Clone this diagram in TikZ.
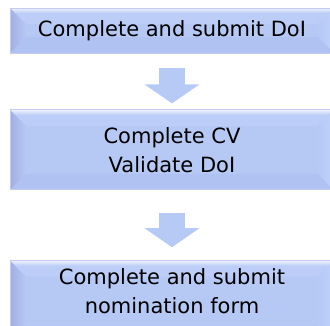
\documentclass[tikz,border=0pt]{standalone}
\usepackage{fontspec}
\newfontfamily\stagefont{DejaVu Sans}
\usetikzlibrary{positioning,arrows.meta}

\definecolor{stageface}{RGB}{182,201,245}
\definecolor{stagetopface}{RGB}{188,206,247}
\definecolor{stagetop}{RGB}{236,241,253}
\definecolor{stageleft}{RGB}{162,174,226}
\definecolor{stageedge}{RGB}{140,150,198}
\definecolor{stageright}{RGB}{192,210,251}
\definecolor{stagebottom}{RGB}{176,194,241}
\definecolor{stageline}{RGB}{198,202,240}
\definecolor{flowarrow}{RGB}{183,202,246}

\begin{document}
\begin{tikzpicture}[
    x=1pt, y=1pt,
    stage/.style={draw=stageline, line width=0.8pt, fill=stageface,
        minimum width=324pt, inner sep=2pt, align=center,
        font=\stagefont\fontsize{21}{29}\selectfont,
        path picture={
            \coordinate (pnw) at (path picture bounding box.north west);
            \coordinate (pne) at (path picture bounding box.north east);
            \coordinate (psw) at (path picture bounding box.south west);
            \coordinate (pse) at (path picture bounding box.south east);
            \fill[stagetopface] (pnw) -- (pne) -- ([shift={(-16,-16)}]pne) -- ([shift={(16,-16)}]pnw) -- cycle;
            \shade[top color=stagetop, bottom color=stagetopface] (pnw) rectangle ([yshift=-5]pne);
            \fill[stagebottom] (psw) -- (pse) -- ([shift={(-16,16)}]pse) -- ([shift={(16,16)}]psw) -- cycle;
            \shade[left color=stageleft, right color=stageface] (pnw) -- ([shift={(16,-16)}]pnw) -- ([shift={(16,16)}]psw) -- (psw) -- cycle;
            \shade[left color=stageface, right color=stageright] (pne) -- ([shift={(-16,-16)}]pne) -- ([shift={(-16,16)}]pse) -- (pse) -- cycle;
            \draw[stageedge, line width=2pt] (pnw) -- (psw);
        }},
    flow/.style={flowarrow, line width=26pt, -{Triangle[length=19pt, width=54pt]}}
]
\useasboundingbox (0,0) rectangle (330,325);
\clip (0,0) rectangle (330,325);

% Etapes
\node[stage, minimum height=45pt] (doi) at (172,294.5) {Complete and submit DoI};

\node[stage, minimum height=80pt, below=56pt of doi] (cv) {Complete CV\\ Validate DoI};

\node[stage, minimum height=81pt, text depth=21pt, below=70pt of cv] (nomform) {Complete and submit\\ nomination form};

% Fleches
\draw[flow, shorten <=15pt, shorten >=6pt] (doi) -- (cv);
\draw[flow, shorten <=23pt, shorten >=13pt] (cv) -- (nomform);

\end{tikzpicture}
\end{document}
